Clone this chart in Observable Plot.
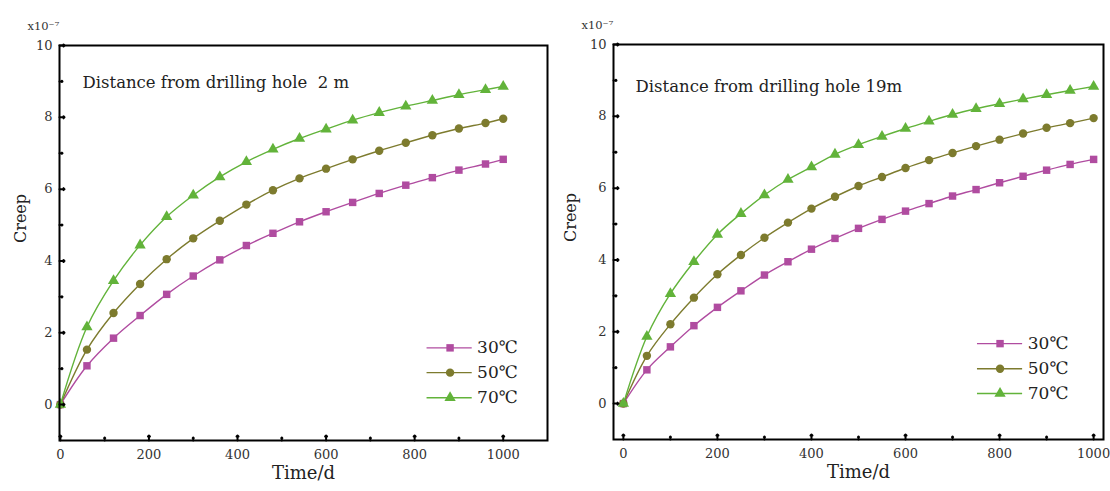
<!DOCTYPE html>
<html><head><meta charset="utf-8">
<script src="https://cdn.jsdelivr.net/npm/d3@7"></script>
<script src="https://cdn.jsdelivr.net/npm/@observablehq/plot@0.6"></script>
<style>
body{margin:0;background:#fff;width:1110px;height:491px;overflow:hidden;position:relative;font-family:"DejaVu Serif",serif}
.panel{position:absolute;top:0}
</style></head><body>
<div id="left" class="panel" style="left:0"></div>
<div id="right" class="panel" style="left:555px"></div>
<script>
const seriesNames = ["30℃", "50℃", "70℃"];
const seriesColors = ["#b04ca0", "#7d7b2e", "#62b33a"];
const seriesSymbols = ["square", "circle", "triangle"];

const timeLeft = [0, 60, 120, 180, 240, 300, 360, 420, 480, 540, 600, 660, 720, 780, 840, 900, 960, 1000];
const creep30Left = [0, 1.08, 1.85, 2.48, 3.07, 3.58, 4.03, 4.43, 4.77, 5.09, 5.37, 5.63, 5.88, 6.11, 6.32, 6.53, 6.70, 6.83];
const creep50Left = [0, 1.53, 2.55, 3.36, 4.05, 4.63, 5.12, 5.57, 5.97, 6.30, 6.57, 6.83, 7.07, 7.29, 7.50, 7.69, 7.84, 7.96];
const creep70Left = [0, 2.16, 3.45, 4.44, 5.23, 5.83, 6.34, 6.76, 7.11, 7.41, 7.67, 7.92, 8.13, 8.31, 8.47, 8.63, 8.77, 8.86];

const timeRight = [0, 50, 100, 150, 200, 250, 300, 350, 400, 450, 500, 550, 600, 650, 700, 750, 800, 850, 900, 950, 1000];
const creep30Right = [0, 0.94, 1.58, 2.17, 2.68, 3.14, 3.58, 3.95, 4.30, 4.60, 4.88, 5.13, 5.36, 5.57, 5.78, 5.96, 6.15, 6.33, 6.50, 6.66, 6.80];
const creep50Right = [0, 1.33, 2.21, 2.95, 3.60, 4.14, 4.62, 5.04, 5.43, 5.76, 6.06, 6.31, 6.56, 6.78, 6.98, 7.17, 7.35, 7.52, 7.68, 7.81, 7.95];
const creep70Right = [0, 1.87, 3.06, 3.95, 4.71, 5.29, 5.81, 6.24, 6.59, 6.94, 7.21, 7.44, 7.66, 7.86, 8.05, 8.21, 8.35, 8.48, 8.60, 8.72, 8.83];

const xMajorTicks = [0, 200, 400, 600, 800, 1000];
const xMinorTicks = [100, 300, 500, 700, 900];
const yMajorTicks = [0, 2, 4, 6, 8, 10];
const yMinorTicks = [1, 3, 5, 7, 9];

const titleLeft = "Distance from drilling hole  2 m";
const titleRight = "Distance from drilling hole 19m";

function buildRows(times, seriesValues) {
  const rows = [];
  seriesValues.forEach((vals, i) => {
    vals.forEach((v, j) => rows.push({t: times[j], creep: v, series: seriesNames[i]}));
  });
  return rows;
}

function panel(cfg) {
  const rows = buildRows(cfg.times, cfg.values);
  const legend = seriesNames.map((s, i) => ({series: s, y: cfg.legendY[i]}));
  const font = "DejaVu Serif";
  const marks = [
    Plot.line(rows, {x: "t", y: "creep", z: "series", stroke: "series", strokeWidth: 1.4, curve: "catmull-rom"}),
    Plot.dot(rows, {x: "t", y: "creep", fill: "series", symbol: "series", r: 4.2, stroke: null}),
    Plot.ruleY(legend, {y: "y", x1: cfg.legendX[0], x2: cfg.legendX[2], stroke: "series", strokeWidth: 1.4}),
    Plot.dot(legend, {x: cfg.legendX[1], y: "y", fill: "series", symbol: "series", r: 4.2}),
    Plot.text(legend, {x: cfg.legendX[3], y: "y", text: "series", textAnchor: "start", fontSize: 17, fill: "#222", fontFamily: font}),
    Plot.text([cfg.title], {x: cfg.titlePos[0], y: cfg.titlePos[1], textAnchor: "start", fontSize: 16.5, fill: "#222", fontFamily: font}),
    Plot.frame({stroke: "#000", strokeWidth: 2}),
    Plot.vector(xMajorTicks, {x: d => d, frameAnchor: "bottom", length: 5, rotate: 0, anchor: "start", stroke: "#000", strokeWidth: 2}),
    Plot.vector(xMinorTicks, {x: d => d, frameAnchor: "bottom", length: 3, rotate: 0, anchor: "start", stroke: "#000", strokeWidth: 2}),
    Plot.vector(yMajorTicks, {y: d => d, frameAnchor: "left", length: 5, rotate: 90, anchor: "start", stroke: "#000", strokeWidth: 2}),
    Plot.vector(yMinorTicks, {y: d => d, frameAnchor: "left", length: 3, rotate: 90, anchor: "start", stroke: "#000", strokeWidth: 2}),
    Plot.axisX(xMajorTicks, {tickSize: 0, tickPadding: 9, fontSize: 13, fill: "#333", fontFamily: font, label: null, tickFormat: d => String(d)}),
    Plot.axisY(yMajorTicks, {tickSize: 0, tickPadding: 7, fontSize: 13, fill: "#333", fontFamily: font, label: null, tickFormat: d => String(d)}),
    Plot.text(["x10⁻⁷"], {frameAnchor: "top-left", dx: -32, dy: -24, textAnchor: "start", fontSize: 11.5, fill: "#333", fontFamily: font}),
    Plot.text(["Creep"], {frameAnchor: "left", dx: cfg.creepDx, rotate: -90, fontSize: 16, fill: "#222", fontFamily: font}),
    Plot.text(["Time/d"], {frameAnchor: "bottom", dy: 38, fontSize: 18, fill: "#222", fontFamily: font})
  ];
  return Plot.plot({
    width: 555,
    height: 491,
    marginLeft: cfg.margin[0],
    marginRight: cfg.margin[1],
    marginTop: cfg.margin[2],
    marginBottom: cfg.margin[3],
    x: {domain: cfg.xDomain, axis: null},
    y: {domain: [-1, 10], axis: null},
    color: {domain: seriesNames, range: seriesColors},
    symbol: {domain: seriesNames, range: seriesSymbols},
    style: {background: "#fff", fontFamily: font},
    marks
  });
}

document.getElementById("left").appendChild(panel({
  times: timeLeft,
  values: [creep30Left, creep50Left, creep70Left],
  title: titleLeft,
  titlePos: [50, 8.97],
  xDomain: [-2, 1100],
  margin: [59, 8, 45, 51],
  legendX: [828, 880, 930, 941],
  legendY: [1.58, 0.89, 0.19],
  creepDx: -39
}));

document.getElementById("right").appendChild(panel({
  times: timeRight,
  values: [creep30Right, creep50Right, creep70Right],
  title: titleRight,
  titlePos: [26, 8.83],
  xDomain: [-21, 1021],
  margin: [58, 7, 44, 52],
  legendX: [753, 801, 849, 860],
  legendY: [1.67, 0.97, 0.28],
  creepDx: -43
}));
</script>
</body></html>
